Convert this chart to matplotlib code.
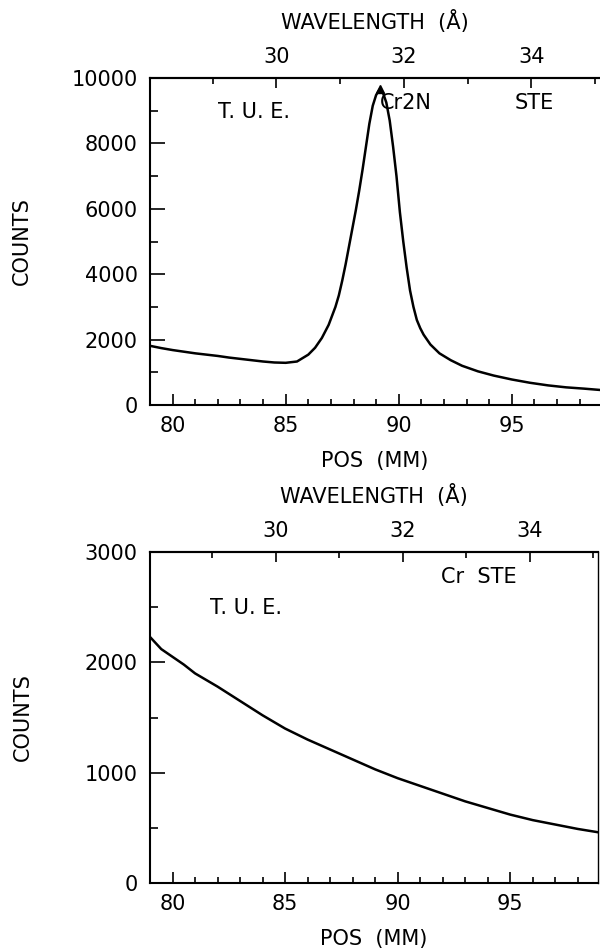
import numpy as np
import matplotlib
matplotlib.use("Agg")
import matplotlib.pyplot as plt
from matplotlib.ticker import MultipleLocator, FixedLocator, NullFormatter

plt.rcParams['font.family'] = ['DejaVu Sans']

# ---------------- data ----------------
# Top panel: Cr2N, STE
pos_cr2n = [79.07, 79.5, 80.0, 80.5, 81.0, 81.5, 82.0, 82.5, 83.0, 83.5, 84.0, 84.5,
            85.0, 85.5, 86.0, 86.3, 86.6, 86.9, 87.2, 87.35, 87.5, 87.65, 87.8, 87.95,
            88.1, 88.25, 88.4, 88.55, 88.7, 88.85, 89.0, 89.15, 89.3, 89.45, 89.6,
            89.75, 89.9, 90.05, 90.2, 90.35, 90.5, 90.65, 90.8, 90.95, 91.1, 91.4,
            91.8, 92.3, 92.8, 93.5, 94.2, 95.0, 95.8, 96.6, 97.4, 98.2, 98.9]
cnt_cr2n = [1800, 1740, 1680, 1630, 1580, 1540, 1500, 1450, 1410, 1370, 1330, 1300,
            1290, 1330, 1540, 1750, 2050, 2450, 3000, 3350, 3800, 4300, 4850, 5400,
            5950, 6550, 7200, 7900, 8600, 9150, 9480, 9650, 9550, 9250, 8700,
            7900, 7000, 5900, 5000, 4200, 3500, 3000, 2600, 2350, 2150, 1850,
            1580, 1370, 1200, 1030, 900, 780, 680, 600, 540, 500, 460]

# Bottom panel: Cr, STE
pos_cr = [79.0, 79.5, 80.0, 80.5, 81.0, 82.0, 83.0, 84.0, 85.0, 86.0, 87.0, 88.0,
          89.0, 90.0, 91.0, 92.0, 93.0, 94.0, 95.0, 96.0, 97.0, 98.0, 98.9]
cnt_cr = [2230, 2120, 2050, 1980, 1900, 1780, 1650, 1520, 1400, 1300, 1210, 1120,
          1030, 950, 880, 810, 740, 680, 620, 570, 530, 490, 460]

pos_ticks = [80, 85, 90, 95]
wl_major = [30, 32, 34]
top_yticks = [0, 2000, 4000, 6000, 8000, 10000]
bot_yticks = [0, 1000, 2000, 3000]

# wavelength (Angstrom) <-> position (mm)
WL_REF, POS_REF, MM_PER_A = 30.0, 84.59, 2.82


def pos2wl(p):
    return WL_REF + (np.asarray(p, dtype=float) - POS_REF) / MM_PER_A


def wl2pos(w):
    return POS_REF + (np.asarray(w, dtype=float) - WL_REF) * MM_PER_A


FS = 15
LW = 1.8

fig = plt.figure(figsize=(6.0, 9.49), dpi=100)
ax1 = fig.add_axes([150 / 600, 1 - 405 / 949, 450 / 600, 327 / 949])
ax2 = fig.add_axes([150 / 600, 1 - 883 / 949, 448 / 600, 331 / 949])


def style(ax, yticks, ymax, yminor, right_spine):
    ax.set_xlim(79.0, 98.9)
    ax.set_ylim(0, ymax)
    ax.set_xticks(pos_ticks)
    ax.xaxis.set_minor_locator(MultipleLocator(1))
    ax.set_yticks(yticks)
    ax.yaxis.set_minor_locator(MultipleLocator(yminor))
    for s in ['left', 'bottom', 'top']:
        ax.spines[s].set_linewidth(1.5)
    ax.spines['right'].set_visible(right_spine)
    ax.spines['right'].set_linewidth(1.0)
    ax.tick_params(axis='x', which='major', direction='in', length=8, width=1.2,
                   labelsize=FS, pad=8, top=False)
    ax.tick_params(axis='x', which='minor', direction='in', length=4.5, width=1.2, top=False)
    ax.tick_params(axis='y', which='major', direction='in', length=11, width=1.2,
                   labelsize=FS, pad=9, right=False)
    ax.tick_params(axis='y', which='minor', direction='in', length=6, width=1.2, right=False)
    ax.set_xlabel('POS  (MM)', fontsize=FS, labelpad=11)
    ax.set_ylabel('COUNTS', fontsize=FS)
    ax.yaxis.set_label_coords(-0.262, 0.5)

    sec = ax.secondary_xaxis('top', functions=(pos2wl, wl2pos))
    sec.xaxis.set_major_locator(FixedLocator(wl_major))
    sec.xaxis.set_minor_locator(MultipleLocator(1))
    sec.xaxis.set_minor_formatter(NullFormatter())
    sec.tick_params(which='major', direction='in', length=7, width=1.2, labelsize=FS, pad=8)
    sec.tick_params(which='minor', direction='in', length=4, width=1.2)
    sec.spines['top'].set_linewidth(1.5)
    sec.set_xlabel('WAVELENGTH  (\u00c5)', fontsize=FS, labelpad=13)
    return sec


style(ax1, top_yticks, 10000, 1000, False)
style(ax2, bot_yticks, 3000, 500, True)

ax1.plot(pos_cr2n, cnt_cr2n, color='black', lw=LW, solid_joinstyle='round')
ipk = int(np.argmax(cnt_cr2n))
ax1.plot([pos_cr2n[ipk]], [cnt_cr2n[ipk]], marker='^', ms=6, color='black')
ax2.plot(pos_cr, cnt_cr, color='black', lw=LW, solid_joinstyle='round')

ax1.text(0.151, 0.896, 'T. U. E.', transform=ax1.transAxes, fontsize=FS,
         ha='left', va='center')
ax1.text(0.511, 0.924, 'Cr2N', transform=ax1.transAxes, fontsize=FS,
         ha='left', va='center')
ax1.text(0.811, 0.924, 'STE', transform=ax1.transAxes, fontsize=FS,
         ha='left', va='center')

ax2.text(0.649, 0.924, 'Cr  STE', transform=ax2.transAxes, fontsize=FS,
         ha='left', va='center')
ax2.text(0.133, 0.831, 'T. U. E.', transform=ax2.transAxes, fontsize=FS,
         ha='left', va='center')

fig.savefig('out.png', dpi=100)
